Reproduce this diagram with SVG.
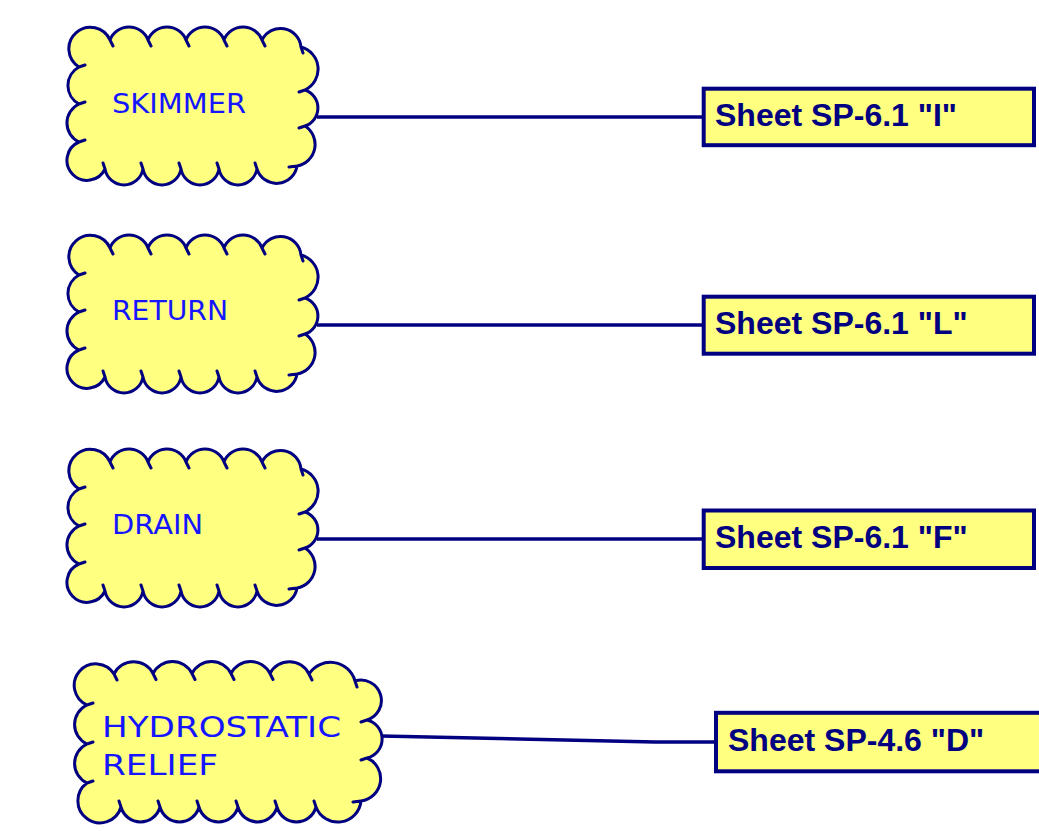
<svg xmlns="http://www.w3.org/2000/svg" xmlns:xlink="http://www.w3.org/1999/xlink" width="1039" height="831" viewBox="0 0 1039 831">
<style>
.cfill{fill:#ffff80;stroke:none}
.cline{fill:none;stroke:#000080;stroke-width:3;stroke-linecap:round;stroke-linejoin:round}
.box{fill:#ffff80;stroke:#000080;stroke-width:4}
.conn{fill:none;stroke:#000080;stroke-width:3.5}
.ct{font-family:"DejaVu Sans",sans-serif;font-size:26px;fill:#1515ff}
.bt{font-family:"Liberation Sans",Arial,sans-serif;font-weight:bold;font-size:32px;fill:#000080}
</style>
<defs>
<g id="cloudA">
<path class="cfill" d="M79,67 A21.5,21.5 0 1,1 110,40 A20.4,20.4 0 0,1 148,40 A20.4,20.4 0 0,1 186,40 A20.4,20.4 0 0,1 224,40 A20.4,20.4 0 0,1 262,40 A20.6,20.6 0 0,1 301,47 A23,23 0 0,1 305,90 A19,19 0 0,1 305,126 A21.9,21.9 0 0,1 297,166 A20.6,20.6 0 0,1 257,169 A19.3,19.3 0 0,1 219,169 A19.3,19.3 0 0,1 181,169 A19.3,19.3 0 0,1 143,169 A19.3,19.3 0 0,1 105,169 A20,20 0 1,1 79,142 A21,21 0 0,1 79,104 A21,21 0 0,1 79,67 Z"/>
<path class="cline" d="M79,67 A21.5,21.5 0 1,1 110,40 L113,46 M110,40 A20.4,20.4 0 0,1 148,40 L151,46 M148,40 A20.4,20.4 0 0,1 186,40 L189,46 M186,40 A20.4,20.4 0 0,1 224,40 L227,46 M224,40 A20.4,20.4 0 0,1 262,40 L265,46 M262,40 A20.6,20.6 0 0,1 301,47 L303,53 M301,47 A23,23 0 0,1 305,90 L299,92 M305,90 A19,19 0 0,1 305,126 L299,128 M305,126 A21.9,21.9 0 0,1 297,166 L289,167 M297,166 A20.6,20.6 0 0,1 257,169 L255,163 M257,169 A19.3,19.3 0 0,1 219,169 L217,163 M219,169 A19.3,19.3 0 0,1 181,169 L179,163 M181,169 A19.3,19.3 0 0,1 143,169 L141,163 M143,169 A19.3,19.3 0 0,1 105,169 L103,163 M105,169 A20,20 0 1,1 79,142 L85,140 M79,142 A21,21 0 0,1 79,104 L85,102 M79,104 A21,21 0 0,1 79,67 L85,65"/>
</g>
</defs>
<rect width="1039" height="831" fill="#ffffff"/>
<g id="connectors">
<path class="conn" d="M317,117 H704"/>
<path class="conn" d="M317,325 H704"/>
<path class="conn" d="M317,539 H704"/>
<path class="conn" d="M381,736 L655,742 H716"/>
</g>
<g id="skimmer">
<use xlink:href="#cloudA" href="#cloudA"/>
<text class="ct" x="112" y="113" textLength="134" lengthAdjust="spacingAndGlyphs">SKIMMER</text>
</g>
<g id="return">
<use xlink:href="#cloudA" href="#cloudA" transform="translate(0,208)"/>
<text class="ct" x="112" y="320" textLength="116" lengthAdjust="spacingAndGlyphs">RETURN</text>
</g>
<g id="drain">
<use xlink:href="#cloudA" href="#cloudA" transform="translate(0,422)"/>
<text class="ct" x="112" y="534" textLength="91" lengthAdjust="spacingAndGlyphs">DRAIN</text>
</g>
<g id="hydrostatic-relief">
<path class="cfill" d="M87,705 A21.5,21.5 0 1,1 114,674 A21.8,21.8 0 0,1 153,673.5 A21.8,21.8 0 0,1 192,673.5 A21.8,21.8 0 0,1 231,673.5 A21.8,21.8 0 0,1 270,673.5 A21.8,21.8 0 0,1 309,674 A25.5,25.5 0 0,1 355,681 A20,20 0 0,1 367,720 A19.5,19.5 0 0,1 367,758 A22.5,22.5 0 0,1 361,801 A23.3,23.3 0 0,1 316,807 A20.2,20.2 0 0,1 277,807 A20.2,20.2 0 0,1 238,807 A20.2,20.2 0 0,1 199,807 A20.2,20.2 0 0,1 160,807 A20.2,20.2 0 0,1 121,807 A22,22 0 1,1 87,783 A21.5,21.5 0 0,1 87,744 A21.5,21.5 0 0,1 87,705 Z"/>
<path class="cline" d="M87,705 A21.5,21.5 0 1,1 114,674 L117,680 M114,674 A21.8,21.8 0 0,1 153,673.5 L156,679.5 M153,673.5 A21.8,21.8 0 0,1 192,673.5 L195,679.5 M192,673.5 A21.8,21.8 0 0,1 231,673.5 L234,679.5 M231,673.5 A21.8,21.8 0 0,1 270,673.5 L273,679.5 M270,673.5 A21.8,21.8 0 0,1 309,674 L312,680 M309,674 A25.5,25.5 0 0,1 355,681 L357,687 M355,681 A20,20 0 0,1 367,720 L361,722 M367,720 A19.5,19.5 0 0,1 367,758 L361,760 M367,758 A22.5,22.5 0 0,1 361,801 L353,802 M361,801 A23.3,23.3 0 0,1 316,807 L314,801 M316,807 A20.2,20.2 0 0,1 277,807 L275,801 M277,807 A20.2,20.2 0 0,1 238,807 L236,801 M238,807 A20.2,20.2 0 0,1 199,807 L197,801 M199,807 A20.2,20.2 0 0,1 160,807 L158,801 M160,807 A20.2,20.2 0 0,1 121,807 L119,801 M121,807 A22,22 0 1,1 87,783 L93,781 M87,783 A21.5,21.5 0 0,1 87,744 L93,742 M87,744 A21.5,21.5 0 0,1 87,705 L93,703"/>
<text class="ct" style="font-size:29px" x="102" y="737" textLength="239" lengthAdjust="spacingAndGlyphs">HYDROSTATIC</text>
<text class="ct" style="font-size:29px" x="102" y="775" textLength="116" lengthAdjust="spacingAndGlyphs">RELIEF</text>
</g>
<g id="sheet-i">
<rect class="box" x="703.7" y="88.7" width="330.3" height="56.5"/>
<text class="bt" x="715" y="126">Sheet SP-6.1 "I"</text>
</g>
<g id="sheet-l">
<rect class="box" x="703.7" y="296.7" width="330.3" height="57"/>
<text class="bt" x="715" y="334">Sheet SP-6.1 "L"</text>
</g>
<g id="sheet-f">
<rect class="box" x="703.7" y="510.5" width="330.3" height="57.5"/>
<text class="bt" x="715" y="548">Sheet SP-6.1 "F"</text>
</g>
<g id="sheet-d">
<rect class="box" x="716" y="712.8" width="340" height="58.5"/>
<text class="bt" x="728" y="751">Sheet SP-4.6 "D"</text>
</g>
</svg>
